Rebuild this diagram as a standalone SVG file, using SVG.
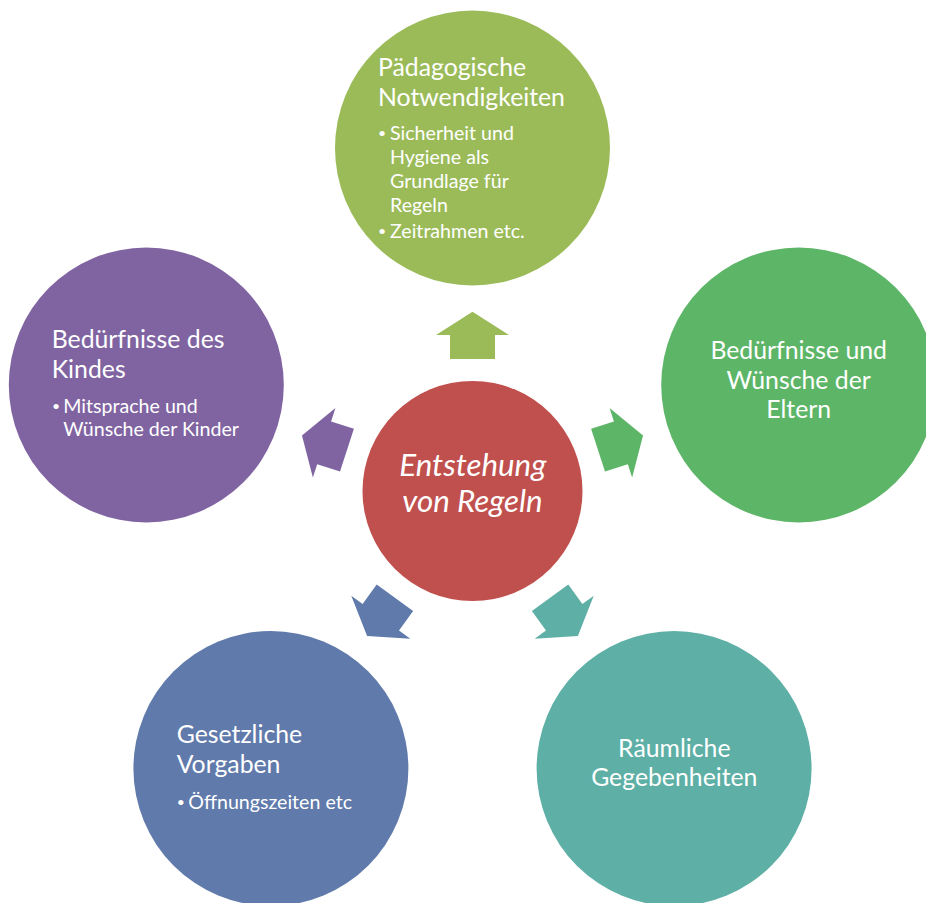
<svg xmlns="http://www.w3.org/2000/svg" width="926" height="903" viewBox="0 0 926 903">
<style>
.t{font-family:Lato,"Open Sans","Liberation Sans",sans-serif;fill:#ffffff}
.h{font-size:24.8px}
.b{font-size:19.6px}
.d{font-size:14px}
.c{text-anchor:middle}
.m{font-size:31.3px;font-style:italic;text-anchor:middle}
</style>
<defs>
<polygon id="arr" points="0,-179.3 36.5,-156 22.5,-156 22.5,-132 -22.5,-132 -22.5,-156 -36.5,-156"/>
</defs>
<rect width="926" height="903" fill="#ffffff"/>
<g id="connectors">
<use href="#arr" fill="#9BBB59" transform="translate(472.5,491) rotate(0)"/>
<use href="#arr" fill="#5DB567" transform="translate(472.5,491) rotate(72)"/>
<use href="#arr" fill="#5EAFA6" transform="translate(472.5,491) rotate(144)"/>
<use href="#arr" fill="#5F7AAB" transform="translate(472.5,491) rotate(216)"/>
<use href="#arr" fill="#8064A2" transform="translate(472.5,491) rotate(288)"/>
</g>
<g id="center">
<circle cx="472.5" cy="491" r="110" fill="#C0504D"/>
<text class="t m" x="472.8" y="476">Entstehung</text>
<text class="t m" x="472.5" y="511.7">von Regeln</text>
</g>
<g id="paedagogische">
<circle cx="472.5" cy="148" r="137.5" fill="#9BBB59"/>
<text class="t h" x="378" y="76">Pädagogische</text>
<text class="t h" x="378" y="106">Notwendigkeiten</text>
<text class="t d" x="378" y="138">•</text>
<text class="t b" x="390" y="140">Sicherheit und</text>
<text class="t b" x="390" y="164">Hygiene als</text>
<text class="t b" x="390" y="188">Grundlage für</text>
<text class="t b" x="390" y="212">Regeln</text>
<text class="t d" x="378" y="236">•</text>
<text class="t b" x="390" y="238">Zeitrahmen etc.</text>
</g>
<g id="eltern">
<circle cx="798.7" cy="385" r="137.5" fill="#5DB567"/>
<text class="t h c" x="798.7" y="359">Bedürfnisse und</text>
<text class="t h c" x="798.7" y="388.5">Wünsche der</text>
<text class="t h c" x="798.7" y="418">Eltern</text>
</g>
<g id="raeumliche">
<circle cx="674.1" cy="768.5" r="137.5" fill="#5EAFA6"/>
<text class="t h c" x="674.3" y="756.7">Räumliche</text>
<text class="t h c" x="674.3" y="785.7">Gegebenheiten</text>
</g>
<g id="gesetzliche">
<circle cx="270.9" cy="768.5" r="137.5" fill="#5F7AAB"/>
<text class="t h" x="176.7" y="743.3">Gesetzliche</text>
<text class="t h" x="176.7" y="773.3">Vorgaben</text>
<text class="t d" x="176.7" y="807">•</text>
<text class="t b" x="188.3" y="809">Öffnungszeiten etc</text>
</g>
<g id="kindes">
<circle cx="146.3" cy="385" r="137.5" fill="#8064A2"/>
<text class="t h" x="51.7" y="348.3">Bedürfnisse des</text>
<text class="t h" x="51.7" y="378.3">Kindes</text>
<text class="t d" x="52" y="410.7">•</text>
<text class="t b" x="63.3" y="412.7">Mitsprache und</text>
<text class="t b" x="63.3" y="436">Wünsche der Kinder</text>
</g>
</svg>
